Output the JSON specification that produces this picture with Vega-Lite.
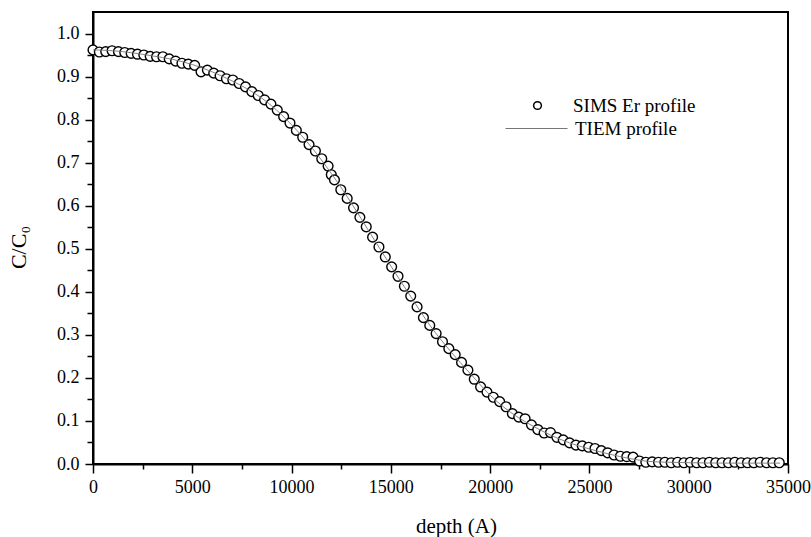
{
  "$schema": "https://vega.github.io/schema/vega-lite/v6.json",
  "width": 695,
  "height": 452,
  "autosize": {"type": "none"},
  "padding": {"left": 93, "top": 12, "right": 23, "bottom": 73},
  "background": "white",
  "config": {
    "font": "Liberation Serif",
    "view": {"stroke": "black", "strokeWidth": 2},
    "axis": {
      "labelFont": "Liberation Serif",
      "titleFont": "Liberation Serif",
      "labelColor": "black",
      "titleColor": "black",
      "domainColor": "black",
      "tickColor": "black",
      "grid": false,
      "titleFontWeight": "normal"
    },
    "legend": {"labelFont": "Liberation Serif", "labelColor": "black"}
  },
  "datasets": {
    "sims": [
      {"d":0,"c":0.962},{"d":320,"c":0.957},{"d":640,"c":0.958},{"d":960,"c":0.960},{"d":1280,"c":0.958},
      {"d":1600,"c":0.956},{"d":1920,"c":0.954},{"d":2240,"c":0.952},{"d":2560,"c":0.950},{"d":2880,"c":0.947},
      {"d":3200,"c":0.946},{"d":3520,"c":0.946},{"d":3840,"c":0.941},{"d":4160,"c":0.936},{"d":4480,"c":0.931},
      {"d":4800,"c":0.929},{"d":5120,"c":0.926},{"d":5440,"c":0.911},{"d":5760,"c":0.915},{"d":6080,"c":0.908},
      {"d":6400,"c":0.902},{"d":6720,"c":0.895},{"d":7040,"c":0.892},{"d":7360,"c":0.884},{"d":7680,"c":0.876},
      {"d":8000,"c":0.865},{"d":8320,"c":0.856},{"d":8640,"c":0.846},{"d":8960,"c":0.836},{"d":9280,"c":0.822},
      {"d":9600,"c":0.807},{"d":9920,"c":0.792},{"d":10240,"c":0.775},{"d":10560,"c":0.759},{"d":10880,"c":0.742},
      {"d":11200,"c":0.727},{"d":11520,"c":0.709},{"d":11840,"c":0.692},{"d":12000,"c":0.672},{"d":12160,"c":0.660},
      {"d":12480,"c":0.637},{"d":12800,"c":0.617},{"d":13120,"c":0.595},{"d":13440,"c":0.573},{"d":13760,"c":0.551},
      {"d":14080,"c":0.527},{"d":14400,"c":0.504},{"d":14720,"c":0.481},{"d":15040,"c":0.458},{"d":15360,"c":0.436},
      {"d":15680,"c":0.413},{"d":16000,"c":0.390},{"d":16320,"c":0.365},{"d":16640,"c":0.340},{"d":16960,"c":0.322},
      {"d":17280,"c":0.303},{"d":17600,"c":0.284},{"d":17920,"c":0.268},{"d":18240,"c":0.254},{"d":18560,"c":0.236},
      {"d":18880,"c":0.218},{"d":19200,"c":0.197},{"d":19520,"c":0.179},{"d":19840,"c":0.167},{"d":20160,"c":0.155},
      {"d":20480,"c":0.145},{"d":20800,"c":0.133},{"d":21120,"c":0.117},{"d":21440,"c":0.109},{"d":21760,"c":0.105},
      {"d":22080,"c":0.091},{"d":22400,"c":0.080},{"d":22720,"c":0.072},{"d":23040,"c":0.073},{"d":23360,"c":0.062},
      {"d":23680,"c":0.056},{"d":24000,"c":0.049},{"d":24320,"c":0.044},{"d":24640,"c":0.042},{"d":24960,"c":0.039},
      {"d":25280,"c":0.036},{"d":25600,"c":0.031},{"d":25920,"c":0.026},{"d":26240,"c":0.021},{"d":26560,"c":0.018},
      {"d":26880,"c":0.017},{"d":27200,"c":0.016},{"d":27520,"c":0.007},{"d":27840,"c":0.004},{"d":28160,"c":0.005},
      {"d":28480,"c":0.004},{"d":28800,"c":0.004},{"d":29120,"c":0.003},{"d":29440,"c":0.004},{"d":29760,"c":0.003},
      {"d":30080,"c":0.004},{"d":30400,"c":0.003},{"d":30720,"c":0.003},{"d":31040,"c":0.004},{"d":31360,"c":0.003},
      {"d":31680,"c":0.003},{"d":32000,"c":0.003},{"d":32320,"c":0.004},{"d":32640,"c":0.003},{"d":32960,"c":0.003},
      {"d":33280,"c":0.003},{"d":33600,"c":0.004},{"d":33920,"c":0.003},{"d":34240,"c":0.003},{"d":34560,"c":0.003}
    ],
    "tiem": [
      {"d":0,"c":0.962},{"d":1000,"c":0.960},{"d":2000,"c":0.955},{"d":3000,"c":0.948},{"d":4000,"c":0.940},
      {"d":5000,"c":0.928},{"d":6000,"c":0.911},{"d":7000,"c":0.890},{"d":8000,"c":0.865},{"d":9000,"c":0.832},
      {"d":10000,"c":0.788},{"d":11000,"c":0.736},{"d":12000,"c":0.675},{"d":13000,"c":0.607},{"d":14000,"c":0.533},
      {"d":15000,"c":0.460},{"d":16000,"c":0.389},{"d":17000,"c":0.320},{"d":18000,"c":0.262},{"d":19000,"c":0.210},
      {"d":20000,"c":0.160},{"d":21000,"c":0.121},{"d":22000,"c":0.092},{"d":23000,"c":0.068},{"d":24000,"c":0.049},
      {"d":25000,"c":0.035},{"d":26000,"c":0.023},{"d":27000,"c":0.013},{"d":27500,"c":0.009},{"d":28000,"c":0.006},
      {"d":29000,"c":0.004},{"d":30000,"c":0.003},{"d":32000,"c":0.002},{"d":34600,"c":0.002}
    ]
  },
  "layer": [
    {
      "data": {"name": "sims"},
      "mark": {"type": "point", "shape": "circle", "size": 95, "fill": "white", "stroke": "black", "strokeWidth": 1.4, "opacity": 1, "filled": false},
      "encoding": {
        "x": {
          "field": "d", "type": "quantitative",
          "scale": {"domain": [0, 35000], "nice": false, "zero": false},
          "axis": {
            "orient": "bottom",
            "values": [0, 5000, 10000, 15000, 20000, 25000, 30000, 35000],
            "format": "d",
            "labelFontSize": 18,
            "labelPadding": 5,
            "tickSize": 9,
            "tickWidth": 1.5,
            "domainWidth": 2,
            "title": "depth (A)",
            "titleFontSize": 21,
            "titleX": 363,
            "titleY": 68,
            "titleAlign": "center",
            "titleBaseline": "alphabetic",
            "labelFlush": false
          }
        },
        "y": {
          "field": "c", "type": "quantitative",
          "scale": {"domain": [0, 1.05], "nice": false, "zero": false},
          "axis": {
            "orient": "left",
            "values": [0, 0.1, 0.2, 0.3, 0.4, 0.5, 0.6, 0.7, 0.8, 0.9, 1.0],
            "format": ".1f",
            "labelFontSize": 18,
            "labelPadding": 6,
            "tickSize": 8,
            "tickWidth": 1.5,
            "domainWidth": 2,
            "title": "C/C₀",
            "titleFontSize": 22,
            "titleX": -68,
            "titleY": 235,
            "titleAlign": "center",
            "titleBaseline": "alphabetic",
            "labelFlush": false
          }
        },
        "shape": {
          "datum": "SIMS Er profile",
          "scale": {"range": ["circle"]},
          "legend": {
            "title": null,
            "orient": "none",
            "legendX": 435,
            "legendY": 84,
            "padding": 0,
            "labelFontSize": 19,
            "labelOffset": 26,
            "symbolSize": 60,
            "symbolType": "circle",
            "encode": {
              "symbols": {
                "update": {
                  "fill": {"value": "white"},
                  "stroke": {"value": "black"},
                  "strokeWidth": {"value": 1.2},
                  "opacity": {"value": 1},
                  "fillOpacity": {"value": 1},
                  "strokeOpacity": {"value": 1}
                }
              }
            }
          }
        }
      }
    },
    {
      "data": {"name": "tiem"},
      "mark": {"type": "line", "strokeWidth": 0.9, "interpolate": "monotone"},
      "encoding": {
        "x": {
          "field": "d", "type": "quantitative",
          "scale": {"domain": [0, 35000], "nice": false, "zero": false},
          "axis": {
            "orient": "bottom",
            "values": [2500, 7500, 12500, 17500, 22500, 27500, 32500],
            "labels": false,
            "domain": false,
            "tickSize": 5,
            "tickWidth": 1.5,
            "title": null
          }
        },
        "y": {
          "field": "c", "type": "quantitative",
          "scale": {"domain": [0, 1.05], "nice": false, "zero": false},
          "axis": {
            "orient": "left",
            "values": [0.05, 0.15, 0.25, 0.35, 0.45, 0.55, 0.65, 0.75, 0.85, 0.95],
            "labels": false,
            "domain": false,
            "tickSize": 6,
            "tickWidth": 1.5,
            "title": null
          }
        },
        "color": {
          "datum": "TIEM profile",
          "scale": {"range": ["#777777"]},
          "legend": {
            "title": null,
            "orient": "none",
            "legendX": 412,
            "legendY": 85,
            "padding": 0,
            "labelFontSize": 19,
            "labelOffset": 7,
            "symbolType": "stroke",
            "symbolSize": 3844,
            "symbolStrokeWidth": 1
          }
        }
      }
    }
  ],
  "resolve": {"axis": {"x": "independent", "y": "independent"}, "legend": {"shape": "independent", "color": "independent"}}
}
